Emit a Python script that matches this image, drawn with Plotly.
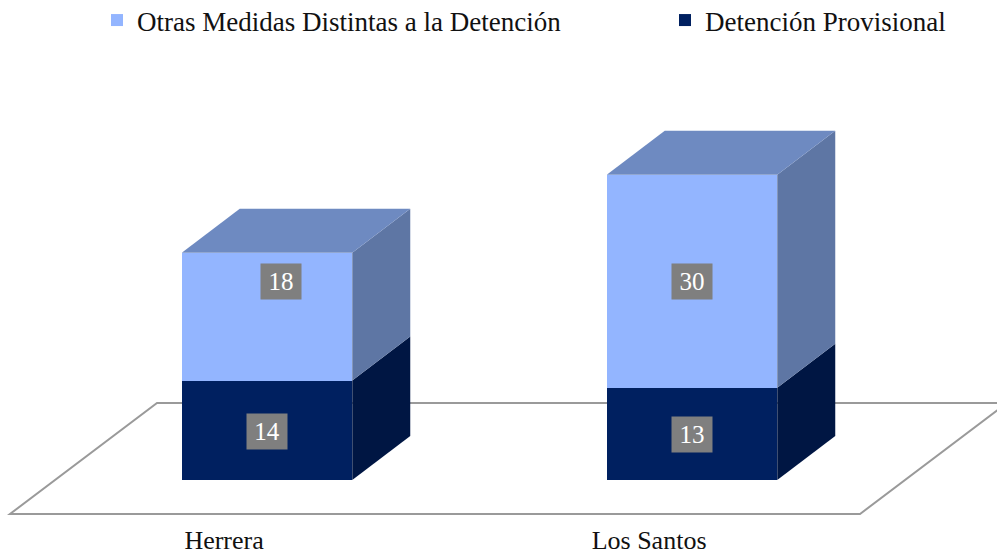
import plotly.graph_objects as go

categories = ["Herrera", "Los Santos"]
detencion = [14, 13]
otras = [18, 30]
name_otras = "Otras Medidas Distintas a la Detención"
name_detencion = "Detención Provisional"

FONT = "Liberation Serif"
W, H = 997, 554
MT, MB = 0, 38
PX_X = 425.0      # pixels per category
PX_Y = 7.1        # pixels per value unit
X0_PX, Y0_PX = 267.0, 480.0   # pixel position of first category / value zero
BAR_W = 170.5 / PX_X
DX, DY = 58 / PX_X, 44 / PX_Y  # 3D depth

C_OTRAS, C_OTRAS_TOP, C_OTRAS_SIDE = "#93B5FF", "#6E8AC1", "#5E76A4"
C_DET, C_DET_SIDE = "#002060", "#001643"


def poly(xs, ys, color):
    return go.Scatter(x=xs, y=ys, mode="lines", fill="toself", fillcolor=color,
                      line=dict(width=0, color=color), hoverinfo="skip",
                      showlegend=False)


fig = go.Figure()
xs = list(range(len(categories)))
fig.add_trace(go.Bar(x=xs, y=detencion, name=name_detencion, width=BAR_W,
                     marker=dict(color=C_DET, line=dict(width=0)), legend="legend2"))
fig.add_trace(go.Bar(x=xs, y=otras, name=name_otras, width=BAR_W,
                     marker=dict(color=C_OTRAS, line=dict(width=0)), legend="legend"))

for i, (d, o) in enumerate(zip(detencion, otras)):
    l, r = i - BAR_W / 2, i + BAR_W / 2
    t = d + o
    fig.add_trace(poly([r, r + DX, r + DX, r, r], [0, DY, d + DY, d, 0], C_DET_SIDE))
    fig.add_trace(poly([r, r + DX, r + DX, r, r], [d, d + DY, t + DY, t, d], C_OTRAS_SIDE))
    fig.add_trace(poly([l, r, r + DX, l + DX, l], [t, t, t + DY, t + DY, t], C_OTRAS_TOP))

# data labels: (category index, centre value, x shift, y shift in value units)
labels = [
    (0, detencion[0] / 2, 0, -0.1, detencion[0]),
    (0, detencion[0] + otras[0] / 2, 14 / PX_X, 5.0, otras[0]),
    (1, detencion[1] / 2, 0, -0.1, detencion[1]),
    (1, detencion[1] + otras[1] / 2, 0, -0.1, otras[1]),
]
for i, yc, sx, sy, v in labels:
    fig.add_annotation(x=i + sx, y=yc + sy, text=str(v), showarrow=False,
                       xref="x", yref="y", width=38, height=33, align="center",
                       valign="middle", bgcolor="#7F7F7F",
                       font=dict(family=FONT, size=25, color="white"))

# floor
fl, fr = (10 - X0_PX) / PX_X, (860 - X0_PX) / PX_X
fy0, fy1 = -34 / PX_Y, 77 / PX_Y
fd = 147 / PX_X
fig.add_shape(type="path", xref="x", yref="y", layer="below",
              path=f"M{fl},{fy0} L{fr},{fy0} L{fr + fd},{fy1} L{fl + fd},{fy1} Z",
              line=dict(color="#9A9A9A", width=2), fillcolor="rgba(0,0,0,0)")

legend_common = dict(orientation="v", yanchor="top", y=1 + 4 / (H - MB), xanchor="left",
                     borderwidth=0, bgcolor="rgba(0,0,0,0)", itemclick=False,
                     font=dict(family=FONT, size=27, color="#111111"))
fig.update_layout(
    width=W, height=H, barmode="stack", paper_bgcolor="white", plot_bgcolor="white",
    margin=dict(l=0, r=0, t=MT, b=MB, autoexpand=False), autosize=False, showlegend=True,
    font=dict(family=FONT, color="#111111"),
    legend=dict(x=97 / W, **legend_common),
    legend2=dict(x=665 / W, **legend_common),
    xaxis=dict(range=[-X0_PX / PX_X, (W - X0_PX) / PX_X], showgrid=False, zeroline=False,
               showline=False, ticks="", tickmode="array", ticklabelstandoff=6,
               tickvals=[i - 0.101 for i in xs], ticktext=categories,
               tickfont=dict(family=FONT, size=26, color="#111111")),
    yaxis=dict(range=[-(H - MB - Y0_PX) / PX_Y, Y0_PX / PX_Y], showgrid=False,
               zeroline=False, showline=False, showticklabels=False, ticks=""),
)
fig.write_html("out.html", post_script="document.body.style.margin='0';",
               config=dict(displayModeBar=False))
